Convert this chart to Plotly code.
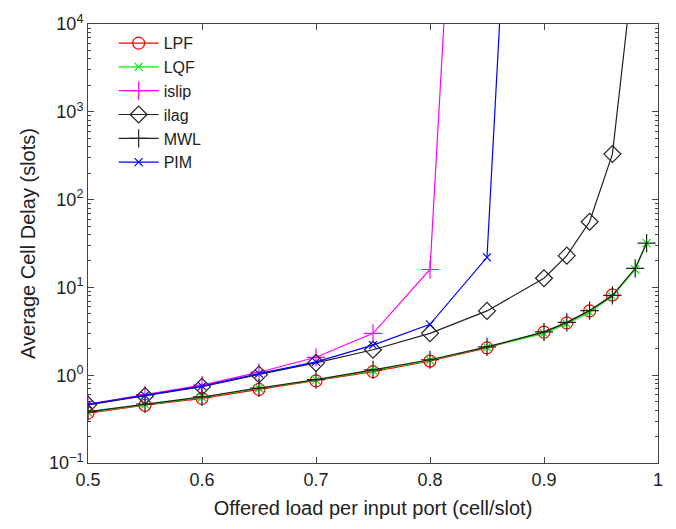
import plotly.graph_objects as go

x_full = [0.5, 0.55, 0.6, 0.65, 0.7, 0.75, 0.8, 0.85, 0.9, 0.92, 0.94, 0.96, 0.98, 0.99]
x_lpf = x_full[:12]
x_islip = [0.5, 0.55, 0.6, 0.65, 0.7, 0.75, 0.8, 0.85]
x_pim = [0.5, 0.55, 0.6, 0.65, 0.7, 0.75, 0.8, 0.85, 0.9]
x_ilag = x_full[:12] + [0.98]

lpf = [0.37, 0.455, 0.545, 0.69, 0.86, 1.10, 1.45, 2.05, 3.1, 3.95, 5.4, 8.2]
lqf = [0.38, 0.465, 0.56, 0.71, 0.88, 1.13, 1.48, 2.08, 3.0, 3.85, 5.2, 7.9, 16, 32]
mwl = [0.385, 0.47, 0.565, 0.715, 0.89, 1.15, 1.5, 2.1, 3.12, 4.0, 5.45, 8.1, 16.5, 32]
islip = [0.47, 0.6, 0.77, 1.08, 1.6, 3.0, 16, 5e12]
pim = [0.465, 0.59, 0.75, 1.04, 1.42, 2.2, 3.8, 22, 2.5e13]
ilag = [0.46, 0.58, 0.74, 1.02, 1.38, 1.95, 3.0, 5.4, 12.7, 23, 56, 330, 6.5e4]

y_tickvals = [0.1, 1, 10, 100, 1000, 10000]
y_ticktext = ["10<sup>−1</sup>", "10<sup>0</sup>", "10<sup>1</sup>", "10<sup>2</sup>", "10<sup>3</sup>", "10<sup>4</sup>"]
x_tickvals = [0.5, 0.6, 0.7, 0.8, 0.9, 1.0]
x_ticktext = ["0.5", "0.6", "0.7", "0.8", "0.9", "1"]

minor_vals = [m * 10 ** e for e in range(-1, 4) for m in range(2, 10)]

fig = go.Figure()

def add(name, xs, ys, color, symbol, size):
    fig.add_trace(go.Scatter(
        x=xs, y=ys, name=name, mode="lines+markers",
        line=dict(color=color, width=1.2),
        marker=dict(symbol=symbol, size=size, color=color,
                    line=dict(color=color, width=1.2)),
    ))

add("LPF", x_lpf, lpf, "#ff0000", "circle-open", 12)
add("LQF", x_full, lqf, "#00ee00", "x-thin-open", 8)
add("islip", x_islip, islip, "#ff00ff", "cross-thin-open", 13)
add("ilag", x_ilag, ilag, "#222222", "diamond-open", 13)
add("MWL", x_full, mwl, "#222222", "cross-thin-open", 13)
add("PIM", x_pim, pim, "#0000ff", "x-thin-open", 8)

font = "Liberation Sans, Arial, sans-serif"

fig.update_layout(
    width=676, height=529,
    margin=dict(l=88, r=18, t=19, b=66),
    paper_bgcolor="white", plot_bgcolor="white",
    font=dict(family=font, size=18, color="#222222"),
    showlegend=True,
    legend=dict(x=0.045, y=0.995, xanchor="left", yanchor="top",
                bgcolor="rgba(255,255,255,0)", borderwidth=0,
                font=dict(size=16), tracegroupgap=0, itemwidth=40),
    xaxis=dict(range=[0.5, 1.0], tickvals=x_tickvals, ticktext=x_ticktext,
               ticks="inside", ticklen=6, tickcolor="#444", showline=True,
               linecolor="#444", linewidth=1, mirror="allticks", showgrid=False,
               zeroline=False, tickfont=dict(size=18),
               title=dict(text="Offered load per input port (cell/slot)", font=dict(size=20), standoff=12)),
    yaxis=dict(type="log", range=[-1, 4], tickvals=y_tickvals, ticktext=y_ticktext,
               ticks="inside", ticklen=6, tickcolor="#444", showline=True,
               linecolor="#444", linewidth=1, mirror="allticks", showgrid=False,
               zeroline=False, tickfont=dict(size=18),
               minor=dict(tickvals=minor_vals, ticks="inside", ticklen=3, tickcolor="#444", showgrid=False),
               title=dict(text="Average Cell Delay (slots)", font=dict(size=20), standoff=8)),
)

fig.write_html("out.html")
